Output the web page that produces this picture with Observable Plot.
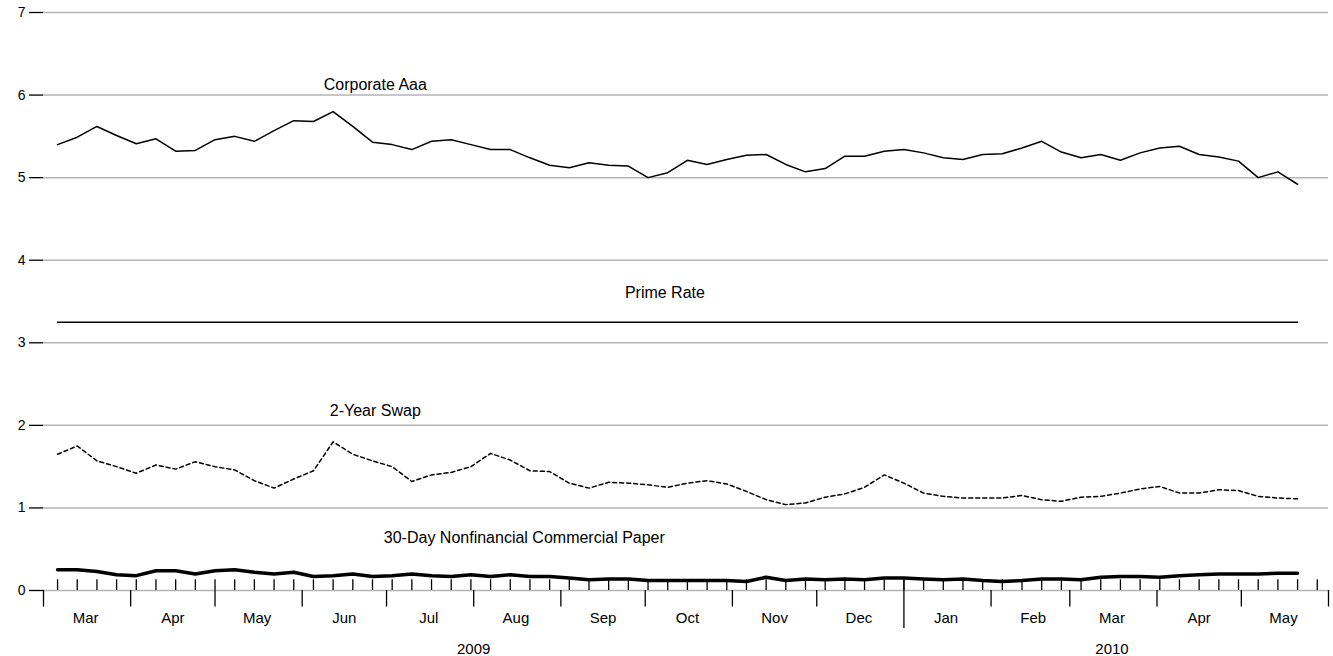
<!DOCTYPE html>
<html>
<head>
<meta charset="utf-8">
<script src="https://cdn.jsdelivr.net/npm/d3@7"></script>
<script src="https://cdn.jsdelivr.net/npm/@observablehq/plot@0.6"></script>
<style>
  body { margin: 0; background: #fff; }
</style>
</head>
<body>
<div id="chart"></div>
<script>
// semanas (viernes) desde el 6 de marzo de 2009
const start = new Date(Date.UTC(2009, 2, 6))

const aaa = [5.40,5.49,5.62,5.51,5.41,5.47,5.32,5.33,5.46,5.50,
  5.44,5.57,5.69,5.68,5.80,5.62,5.43,5.40,5.34,5.44,
  5.46,5.40,5.34,5.34,5.24,5.15,5.12,5.18,5.15,5.14,
  5.00,5.06,5.21,5.16,5.22,5.27,5.28,5.16,5.07,5.11,
  5.26,5.26,5.32,5.34,5.30,5.24,5.22,5.28,5.29,5.36,
  5.44,5.31,5.24,5.28,5.21,5.30,5.36,5.38,5.28,5.25,
  5.20,5.00,5.07,4.92]

const swap = [1.65,1.75,1.57,1.50,1.42,1.52,1.47,1.56,1.50,1.46,
  1.33,1.24,1.35,1.45,1.80,1.65,1.57,1.50,1.32,1.40,
  1.43,1.50,1.66,1.58,1.45,1.44,1.30,1.24,1.31,1.30,
  1.28,1.25,1.30,1.33,1.29,1.20,1.10,1.04,1.06,1.13,
  1.17,1.25,1.40,1.30,1.18,1.14,1.12,1.12,1.12,1.15,
  1.10,1.08,1.13,1.14,1.18,1.23,1.26,1.18,1.18,1.22,
  1.21,1.14,1.12,1.11]

const paper = [0.25,0.25,0.23,0.19,0.18,0.24,0.24,0.20,0.24,0.25,
  0.22,0.20,0.22,0.17,0.18,0.20,0.17,0.18,0.20,0.18,
  0.17,0.19,0.17,0.19,0.17,0.17,0.15,0.13,0.14,0.14,
  0.12,0.12,0.12,0.12,0.12,0.11,0.16,0.12,0.14,0.13,
  0.14,0.13,0.15,0.15,0.14,0.13,0.14,0.12,0.11,0.12,
  0.14,0.14,0.13,0.16,0.17,0.17,0.16,0.18,0.19,0.20,
  0.20,0.20,0.21,0.21]

const prime = aaa.map(() => 3.25)

const labels = [
  {date: new Date(Date.UTC(2009, 5, 27)), y: 6.12, text: 'Corporate Aaa'},
  {date: new Date(Date.UTC(2009, 9, 8)), y: 3.6, text: 'Prime Rate'},
  {date: new Date(Date.UTC(2009, 5, 27)), y: 2.18, text: '2-Year Swap'},
  {date: new Date(Date.UTC(2009, 7, 19)), y: 0.64, text: '30-Day Nonfinancial Commercial Paper'}
]
const monthNames = ['Jan','Feb','Mar','Apr','May','Jun','Jul','Aug','Sep','Oct','Nov','Dec']
const years = ['2009', '2010']

const weeks = aaa.map((d, i) => d3.utcWeek.offset(start, i))
const serie = vals => vals.map((v, i) => ({date: weeks[i], v}))

const x0 = new Date(Date.UTC(2009, 2, 1))
const x1 = new Date(Date.UTC(2010, 5, 1))
const monthTicks = d3.utcMonth.range(x0, d3.utcDay.offset(x1, 1))
const weekTicks = d3.utcFriday.range(start, x1)
const months = d3.utcMonth.range(x0, x1).map(d => ({date: d3.utcDay.offset(d, 15), text: monthNames[d.getUTCMonth()]}))
const yearLabels = [
  {date: new Date(Date.UTC(2009, 7, 1)), text: years[0]},
  {date: new Date(Date.UTC(2010, 2, 16)), text: years[1]}
]
const jan = new Date(Date.UTC(2010, 0, 1))

let chart = Plot.plot({
  width: 1333,
  height: 656,
  marginLeft: 43,
  marginRight: 5,
  marginTop: 12,
  marginBottom: 66,
  style: {fontFamily: 'Liberation Sans, Arial, sans-serif', fontSize: '14px', color: '#000'},
  x: {type: 'utc', domain: [x0, x1], axis: null},
  y: {domain: [0, 7], label: null},
  marks: [
    Plot.gridY(d3.range(0, 8), {stroke: '#b5b5b5', strokeOpacity: 1, strokeWidth: 1.5}),
    Plot.axisY(d3.range(0, 8), {tickSize: 14, tickPadding: 4, fontSize: 14, strokeWidth: 1.3, tickFormat: d => d}),
    Plot.ruleX(weekTicks, {y1: 0, y2: 0.13, stroke: '#000', strokeWidth: 1.3}),
    Plot.ruleX(monthTicks.filter(d => +d !== +jan), {y1: 0, y2: -0.2, stroke: '#000', strokeWidth: 1.3}),
    Plot.ruleX([jan], {y1: 0.13, y2: -0.46, stroke: '#000', strokeWidth: 1.3}),
    Plot.text(months, {x: 'date', y: -0.33, text: 'text', fontSize: 15}),
    Plot.text(yearLabels, {x: 'date', y: -0.71, text: 'text', fontSize: 15}),
    Plot.line(serie(prime), {x: 'date', y: 'v', stroke: '#000', strokeWidth: 1.5}),
    Plot.line(serie(aaa), {x: 'date', y: 'v', stroke: '#000', strokeWidth: 1.5}),
    Plot.line(serie(swap), {x: 'date', y: 'v', stroke: '#000', strokeWidth: 1.5, strokeDasharray: '4,3'}),
    Plot.line(serie(paper), {x: 'date', y: 'v', stroke: '#000', strokeWidth: 3.5}),
    Plot.text(labels, {x: 'date', y: 'y', text: 'text', fontSize: 16})
  ]
})

d3.select('#chart').append(() => chart)
</script>
</body>
</html>
